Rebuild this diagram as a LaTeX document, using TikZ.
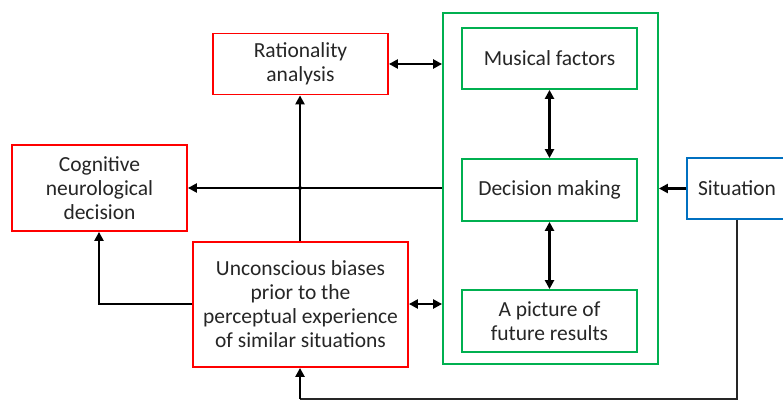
\documentclass[tikz,border=0pt]{standalone}
\usepackage{fontspec}
\setmainfont{Carlito}
\usetikzlibrary{arrows.meta}
\definecolor{bred}{RGB}{255,0,0}
\definecolor{bgreen}{RGB}{0,176,80}
\definecolor{bblue}{RGB}{0,112,192}
\tikzset{
  box/.style={draw, line width=1.8pt, fill=white, inner sep=0pt, align=center,
    font=\fontsize{21.5}{24}\selectfont, text=black!85},
  redbox/.style={box, draw=bred},
  greenbox/.style={box, draw=bgreen},
  bluebox/.style={box, draw=bblue},
  conn/.style={line width=2.6pt, -{Triangle[length=9pt,width=9pt]}},
  bconn/.style={line width=2.6pt, {Triangle[length=9pt,width=9pt]}-{Triangle[length=9pt,width=9pt]}},
}
\begin{document}
\begin{tikzpicture}[x=1pt,y=-1pt]
\useasboundingbox (0,0) rectangle (783,401);
\clip (0,0) rectangle (783,401);
\node[greenbox, minimum width=215pt, minimum height=351pt] (outer) at (550.5,188.5) {};
\node[redbox, minimum width=175pt, minimum height=61pt] (rat) at (300.5,64) {Rationality\\analysis};
\node[redbox, minimum width=175pt, minimum height=86pt] (cog) at (99.5,188) {Cognitive\\neurological\\decision};
\node[redbox, minimum width=215pt, minimum height=125pt] (unc) at (300.5,304.5) {Unconscious biases\\prior to the\\perceptual experience\\of similar situations};
\node[greenbox, minimum width=175pt, minimum height=61pt] (mus) at (549.5,58.5) {Musical factors};
\node[greenbox, minimum width=175pt, minimum height=62pt] (dec) at (549.5,190) {Decision making};
\node[greenbox, minimum width=175pt, minimum height=62pt] (pic) at (549.5,321) {A picture of\\future results};
\node[bluebox, minimum width=100pt, minimum height=61pt] (sit) at (737,188.5) {Situation};
\coordinate (jn) at (300,188);
\coordinate (lft) at (99,304);
\coordinate (bot) at (737,399);
\coordinate (botl) at (300,399);
% connectors
\draw[bconn] (rat.east) -- (rat.east -| outer.west);
\draw[bconn] (unc.east |- 0,304) -- (outer.west |- 0,304);
\draw[bconn] (mus.south) -- (dec.north);
\draw[bconn] (dec.south) -- (pic.north);
\draw[conn] (sit.west) -- (outer.east |- sit.west);
\draw[conn] (outer.west |- 0,188) -- (cog.east |- 0,188);
\draw[conn] (unc.north -| jn) -- (rat.south -| jn);
\fill (jn) circle (2pt);
\draw[conn] (unc.west |- lft) -- (lft) -- (cog.south -| lft);
\draw[line width=1.6pt, black!85] (sit.south -| bot) -- (bot) -- (botl);
\draw[conn] (botl) -- (unc.south -| botl);
\end{tikzpicture}
\end{document}
